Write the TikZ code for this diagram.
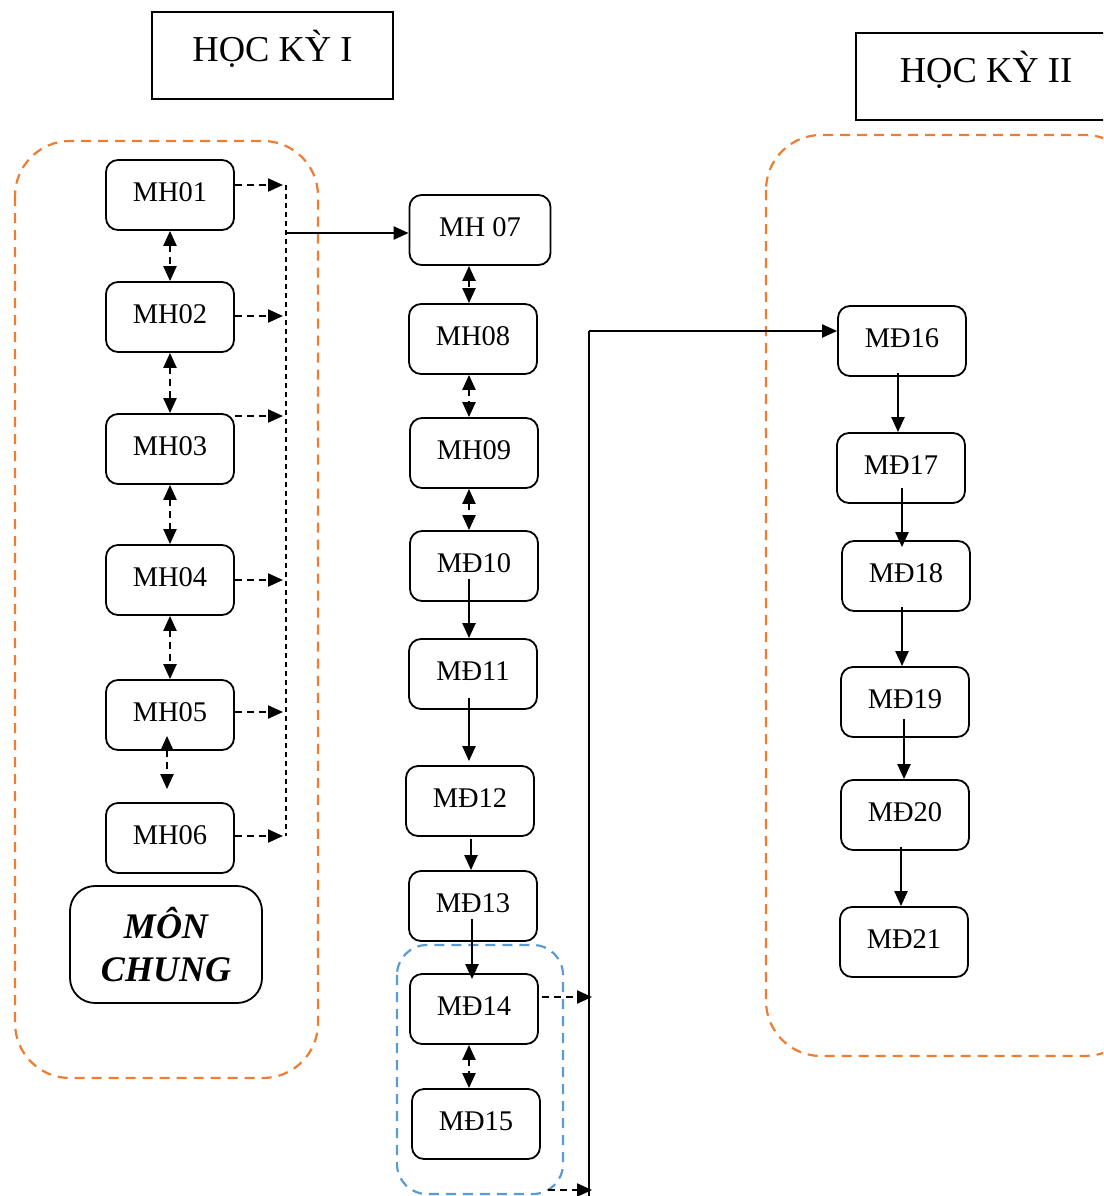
\documentclass[tikz,border=0pt]{standalone}
\usepackage{fontspec}
\setmainfont{Liberation Serif}
\usetikzlibrary{arrows.meta,positioning}
\definecolor{grouporange}{HTML}{ED7D31}
\definecolor{groupblue}{HTML}{5B9BD5}
\tikzset{
    subj/.style={draw, rounded corners=12pt, line width=1.8pt, minimum width=128pt, minimum height=70pt, inner sep=0pt, font=\fontsize{28.5}{31}\selectfont},
    term/.style={draw, line width=2pt, minimum width=241pt, minimum height=87pt, inner sep=0pt, font=\fontsize{36.5}{40}\selectfont},
    group/.style={draw=#1, dash pattern=on 10pt off 7pt, line width=2.2pt, rounded corners=55pt},
    head/.tip={Triangle[length=15pt,width=13pt]},
    link/.style={line width=2.2pt, -head},
    dlink/.style={line width=2.2pt, dash pattern=on 7pt off 5pt, head-head},
    dto/.style={line width=2.2pt, dash pattern=on 7pt off 5pt, -head}}

\begin{document}
\begin{tikzpicture}[x=1pt,y=-1pt]
\useasboundingbox (0,0) rectangle (1103,1196);
\clip (0,0) rectangle (1103,1196);
% hoc ky titles
\node[term] (hk1) at (272.5,55.5) {\raisebox{20pt}{HỌC KỲ I}};
\node[term, minimum width=300pt, anchor=west] (hk2) at (855,76.5) {\hspace*{-40pt}\raisebox{20pt}{HỌC KỲ II}};
% groups
\draw[group=grouporange] (15,141) rectangle (318,1078);
\draw[group=grouporange] (766,135) rectangle (1140,1056);
\draw[group=groupblue, rounded corners=30pt] (397,945) rectangle (563,1194);

% mon chung
\node[subj] (mh1) at (170,195) {\raisebox{5pt}{MH01}};
\node[subj] (mh2) at (170,317) {\raisebox{5pt}{MH02}};
\node[subj] (mh3) at (170,449) {\raisebox{5pt}{MH03}};
\node[subj] (mh4) at (170,580) {\raisebox{5pt}{MH04}};
\node[subj] (mh5) at (170,715) {\raisebox{5pt}{MH05}};
\node[subj] (mh6) at (170,838) {\raisebox{5pt}{MH06}};
\node[subj, minimum width=192pt, minimum height=117pt, rounded corners=25pt, align=center,
      font=\fontsize{36}{43}\selectfont\bfseries\itshape] (chung) at (166,944.5) {MÔN\\CHUNG};

\draw[dlink] (mh1) -- (mh2);
\draw[dlink] (mh2) -- (mh3);
\draw[dlink] (mh3) -- (mh4);
\draw[dlink] (mh4) -- (mh5);
\draw[dlink] ([xshift=-3pt,yshift=15pt]mh5.south) -- ([xshift=-3pt,yshift=13pt]mh6.north);

\coordinate (c1) at (286,185);
\coordinate (c2) at (286,316);
\coordinate (c3) at (286,416);
\coordinate (c4) at (286,580);
\coordinate (c5) at (286,712);
\coordinate (c6) at (286,836);
\draw[line width=1.3pt, dash pattern=on 5pt off 4pt] (c1) -- (c6);
\draw[dto] (mh1.east |- c1) -- ([xshift=-3pt]c1);
\draw[dto] (mh2.east |- c2) -- ([xshift=-3pt]c2);
\draw[dto] (mh3.east |- c3) -- ([xshift=-3pt]c3);
\draw[dto] (mh4.east |- c4) -- ([xshift=-3pt]c4);
\draw[dto] (mh5.east |- c5) -- ([xshift=-3pt]c5);
\draw[dto] (mh6.east |- c6) -- ([xshift=-3pt]c6);

% middle column
\node[subj, minimum width=141pt] (mh7) at (480,230) {\raisebox{5pt}{MH 07}};
\node[subj] (mh8) at (473,339) {\raisebox{5pt}{MH08}};
\node[subj] (mh9) at (474,453) {\raisebox{5pt}{MH09}};
\node[subj] (md10) at (474,566) {\raisebox{5pt}{MĐ10}};
\node[subj] (md11) at (473,674) {\raisebox{5pt}{MĐ11}};
\node[subj] (md12) at (470,801) {\raisebox{5pt}{MĐ12}};
\node[subj] (md13) at (473,906) {\raisebox{5pt}{MĐ13}};
\node[subj] (md14) at (474,1009) {\raisebox{5pt}{MĐ14}};
\node[subj] (md15) at (476,1124) {\raisebox{5pt}{MĐ15}};

\coordinate (j7) at (286,233);
\draw[line width=2.2pt, -head] (j7) -- (mh7.west |- j7);

\draw[dlink] ([xshift=-11pt]mh7.south) -- ([xshift=-4pt]mh8.north);
\draw[dlink] ([xshift=-4pt]mh8.south) -- ([xshift=-5pt]mh9.north);
\draw[dlink] ([xshift=-5pt]mh9.south) -- ([xshift=-5pt]md10.north);
\draw[link] ([xshift=-5pt,yshift=23pt]md10.south) -- ([xshift=-4pt]md11.north);
\draw[link] ([xshift=-4pt,yshift=12pt]md11.south) -- ([xshift=-1pt,yshift=4pt]md12.north);
\draw[link] ([xshift=1pt,yshift=-2pt]md12.south) -- ([xshift=-2pt]md13.north);
\draw[link] ([xshift=-1pt,yshift=23pt]md13.south) -- ([xshift=-2pt,yshift=-6pt]md14.north);
\draw[dlink] ([xshift=-5pt]md14.south) -- ([xshift=-7pt]md15.north);

\coordinate (v1) at (589,331);
\coordinate (v2) at (589,1196);
\draw[line width=2pt] (v1) -- (v2);
\coordinate (a14) at ([xshift=3pt,yshift=12pt]md14.east);
\draw[dto] (a14) -- ([xshift=3pt]v1 |- a14);
\coordinate (b1) at (548,1190);
\draw[dto] (b1) -- ([xshift=3pt]v2 |- b1);

% hoc ky II
\node[subj] (md16) at (902,341) {\raisebox{5pt}{MĐ16}};
\node[subj] (md17) at (901,468) {\raisebox{5pt}{MĐ17}};
\node[subj] (md18) at (906,576) {\raisebox{5pt}{MĐ18}};
\node[subj] (md19) at (905,702) {\raisebox{5pt}{MĐ19}};
\node[subj] (md20) at (905,815) {\raisebox{5pt}{MĐ20}};
\node[subj] (md21) at (904,942) {\raisebox{5pt}{MĐ21}};

\draw[link] (v1) -- (md16.west |- v1);
\draw[link] ([xshift=-4pt,yshift=4pt]md16.south) -- ([xshift=-3pt]md17.north);
\draw[link] ([xshift=1pt,yshift=16pt]md17.south) -- ([xshift=-4pt,yshift=-7pt]md18.north);
\draw[link] ([xshift=-4pt,yshift=5pt]md18.south) -- ([xshift=-3pt]md19.north);
\draw[link] ([xshift=-1pt,yshift=19pt]md19.south) -- ([xshift=-1pt]md20.north);
\draw[link] ([xshift=-4pt,yshift=4pt]md20.south) -- ([xshift=-3pt]md21.north);
\end{tikzpicture}
\end{document}
